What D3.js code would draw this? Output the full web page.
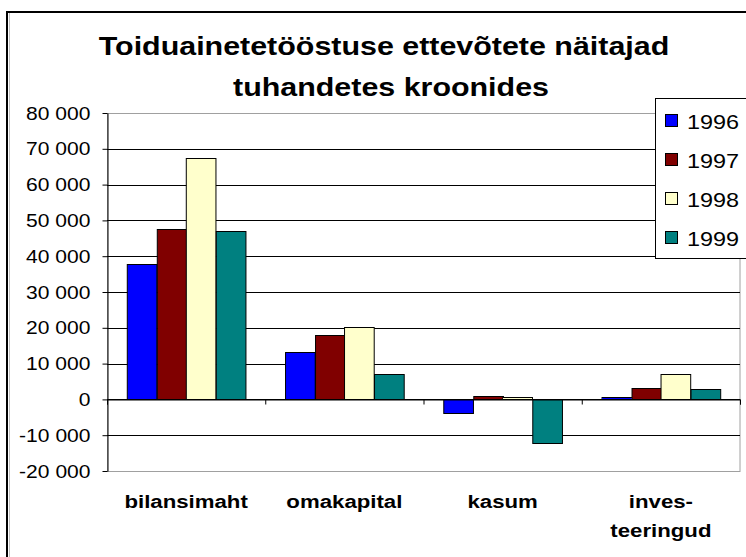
<!DOCTYPE html>
<html>
<head>
<meta charset="utf-8">
<script src="https://cdn.jsdelivr.net/npm/d3@7"></script>
<style>
  body { margin: 0; background: #fff; }
  svg { display: block; font-family: Arial, "Liberation Sans", sans-serif; }
</style>
</head>
<body>
<div class="chart-container"></div>
<script>
// categories (multi-line labels split on "\n")
const categories = ["bilansimaht", "omakapital", "kasum", "inves-\nteeringud"];
const years = ["1996", "1997", "1998", "1999"];

// values in thousands of kroons
const v1996 = [37900, 13300, -3700, 600];
const v1997 = [47700, 18100, 900, 3300];
const v1998 = [67400, 20200, 800, 7000];
const v1999 = [47100, 7000, -12300, 2800];

const yTicks = [-20000, -10000, 0, 10000, 20000, 30000, 40000, 50000, 60000, 70000, 80000];

const COLORS = ["#0000ff", "#800000", "#ffffcc", "#008080"];

const title = "Toiduainetetööstuse ettevõtete näitajad";
const subtitle = "tuhandetes kroonides";

const series = [v1996, v1997, v1998, v1999];

// the original picture is stretched a bit sideways, so text is too
const SX = 1.17;

const W = 746, H = 557;
const plot = { left: 107, right: 740, top: 113, bottom: 471 };

const locale = d3.formatLocale({ decimal: ",", thousands: " ", grouping: [3], currency: ["", ""], minus: "-" });
const fmt = locale.format(",d");

const svg = d3.select(".chart-container")
  .append("svg")
  .attr("width", W)
  .attr("height", H);

// outer frame
svg.append("rect")
  .attr("x", 7).attr("y", 12)
  .attr("width", 800).attr("height", 600)
  .attr("fill", "#fff")
  .attr("stroke", "#000")
  .attr("stroke-width", 2);
svg.append("line")
  .attr("x1", 9.5).attr("x2", 9.5).attr("y1", 13).attr("y2", H)
  .attr("stroke", "#c0c0c0");

function stretchText(g, x, y, txt, size, weight, anchor) {
  return g.append("text")
    .attr("transform", `translate(${x},${y}) scale(${SX},1)`)
    .attr("text-anchor", anchor || "middle")
    .attr("font-size", size)
    .attr("font-weight", weight || "normal")
    .attr("fill", "#000")
    .text(txt);
}

// titles
stretchText(svg, 384, 55, title, 26, "bold");
stretchText(svg, 391, 96, subtitle, 26, "bold");

const y = d3.scaleLinear()
  .domain([d3.min(yTicks), d3.max(yTicks)])
  .range([plot.bottom, plot.top]);

const x0 = d3.scaleBand()
  .domain(categories)
  .range([plot.left, plot.right])
  .paddingInner(0.25)
  .paddingOuter(0.125);

const x1 = d3.scaleBand()
  .domain(years)
  .range([0, x0.bandwidth()]);

const xEdge = d3.scaleLinear()
  .domain([0, categories.length])
  .range([plot.left, plot.right]);

// plot border (gray)
svg.append("rect")
  .attr("x", plot.left + 0.5).attr("y", y(d3.max(yTicks)) + 0.5)
  .attr("width", plot.right - plot.left - 0.5)
  .attr("height", y(d3.min(yTicks)) - y(d3.max(yTicks)))
  .attr("fill", "none")
  .attr("stroke", "#a0a0a0");

// gridlines
svg.append("g")
  .selectAll("line")
  .data(yTicks.slice(1, -1))
  .enter()
  .append("line")
  .attr("x1", plot.left)
  .attr("x2", plot.right)
  .attr("y1", d => Math.round(y(d)) + 0.5)
  .attr("y2", d => Math.round(y(d)) + 0.5)
  .attr("stroke", "#000");

// bars
const groups = svg.append("g")
  .selectAll("g")
  .data(categories)
  .enter()
  .append("g")
  .attr("transform", d => `translate(${x0(d)},0)`);

groups.selectAll("rect")
  .data((c, ci) => years.map((yr, si) => ({ yr, value: series[si][ci] })))
  .enter()
  .append("rect")
  .attr("x", d => Math.round(x1(d.yr)) + 0.5)
  .attr("width", x1.bandwidth())
  .attr("y", d => Math.round(y(Math.max(0, d.value))) + 0.5)
  .attr("height", d => Math.abs(Math.round(y(d.value)) - Math.round(y(0))))
  .attr("fill", (d, i) => COLORS[i])
  .attr("stroke", "#000");

// x axis at zero with ticks on the category boundaries
const xAxis = svg.append("g")
  .attr("transform", `translate(0,${Math.round(y(0)) + 0.5})`)
  .call(d3.axisBottom(xEdge).tickValues(d3.range(0, categories.length + 1)).tickSize(5).tickFormat(""));
xAxis.select(".domain").attr("stroke", "#000");

// y axis
const yAxis = svg.append("g")
  .attr("transform", `translate(${plot.left + 0.5},0)`)
  .call(d3.axisLeft(y).tickValues(yTicks).tickSize(5).tickSizeOuter(0).tickFormat(fmt));
yAxis.select(".domain").attr("stroke", "#000");
yAxis.selectAll(".tick line").attr("stroke", "#000");
yAxis.selectAll(".tick text")
  .attr("x", null).attr("dy", null)
  .attr("transform", `translate(-17,6) scale(${SX},1)`)
  .attr("font-size", 18)
  .attr("font-family", "Arial, 'Liberation Sans', sans-serif")
  .attr("fill", "#000");

// category labels
categories.forEach(c => {
  const cx = x0(c) + x0.bandwidth() / 2;
  c.split("\n").forEach((line, i) => {
    stretchText(svg, cx, 508 + i * 29, line, 19, "bold");
  });
});

// legend
const legend = svg.append("g");
legend.append("rect")
  .attr("x", 655.5).attr("y", 98.5)
  .attr("width", 110).attr("height", 160)
  .attr("fill", "#fff")
  .attr("stroke", "#000");

const ly = d3.scalePoint().domain(years).range([121, 238]);
years.forEach((yr, i) => {
  legend.append("rect")
    .attr("x", 665.5).attr("y", ly(yr) - 6.5)
    .attr("width", 12).attr("height", 12)
    .attr("fill", COLORS[i])
    .attr("stroke", "#000");
  stretchText(legend, 687, ly(yr) + 8, yr, 20, "normal", "start");
});
</script>
</body>
</html>
